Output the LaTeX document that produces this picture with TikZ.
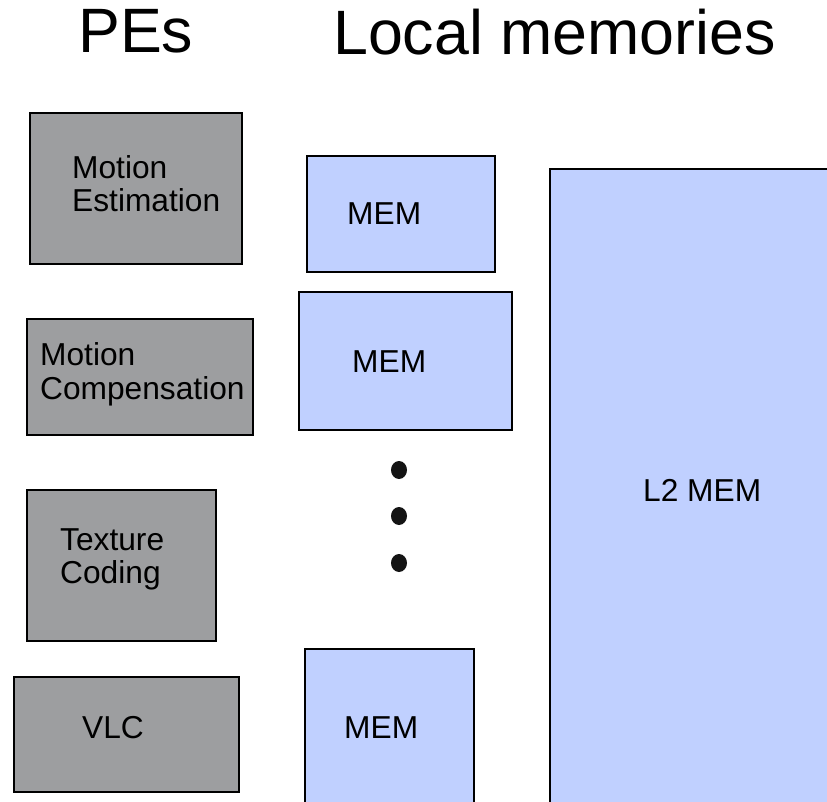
\documentclass[tikz,border=0pt]{standalone}
\usepackage{fontspec}
\setmainfont{Liberation Sans}
\usetikzlibrary{shapes.geometric}
\definecolor{pegray}{RGB}{157,158,160}
\definecolor{memblue}{RGB}{192,208,255}
\tikzset{
  pebox/.style={draw=black, line width=2pt, fill=pegray, rectangle, inner sep=0pt},
  membox/.style={draw=black, line width=2pt, fill=memblue, rectangle, inner sep=0pt},
  lbl/.style={anchor=base west, inner sep=0pt, font=\fontsize{31.7}{33}\selectfont},
  title/.style={anchor=base west, inner sep=0pt, font=\fontsize{62.7}{70}\selectfont},
  dotmark/.style={ellipse, fill=black!92, inner sep=0pt, minimum width=16pt, minimum height=18pt}
}
\begin{document}
\begin{tikzpicture}[x=1pt,y=-1pt]
\useasboundingbox (0,0) rectangle (827,802);
\clip (0,0) rectangle (827,802);
% titles
\node[title] (tpe) at (78,53) {PEs};
\node[title] (tlm) at (333,55) {Local memories};
% PEs
\node[pebox, minimum width=212pt, minimum height=151pt] (me) at (136,188.5) {};
\node[pebox, minimum width=226pt, minimum height=116pt] (mc) at (140,377) {};
\node[pebox, minimum width=189pt, minimum height=151pt] (tc) at (121.5,565.5) {};
\node[pebox, minimum width=225pt, minimum height=115pt] (vlc) at (126.5,734.5) {};
% memories
\node[membox, minimum width=188pt, minimum height=116pt] (m1) at (401,214) {};
\node[membox, minimum width=213pt, minimum height=138pt] (m2) at (405.5,361) {};
\node[membox, minimum width=169pt, minimum height=163pt] (m3) at (389.5,730.5) {};
\node[membox, minimum width=290pt, minimum height=643pt] (l2) at (695,490.5) {};
% dots
\node[dotmark] (d1) at (399,470) {};
\node[dotmark] (d2) at (399,516) {};
\node[dotmark] (d3) at (399,563) {};
% labels
\node[lbl] (tme1) at (72,179) {Motion};
\node[lbl] (tme2) at (72,212) {Estimation};
\node[lbl] (tmc1) at (40,365) {Motion};
\node[lbl] (tmc2) at (40,399) {Compensation};
\node[lbl] (ttc1) at (60,550) {Texture};
\node[lbl] (ttc2) at (60,583) {Coding};
\node[lbl] (tvlc) at (82,738) {VLC};
\node[lbl] (tm1) at (347,225) {MEM};
\node[lbl] (tm2) at (352,372) {MEM};
\node[lbl] (tm3) at (344,738) {MEM};
\node[lbl] (tl2) at (643,501) {L2 MEM};
\end{tikzpicture}
\end{document}
